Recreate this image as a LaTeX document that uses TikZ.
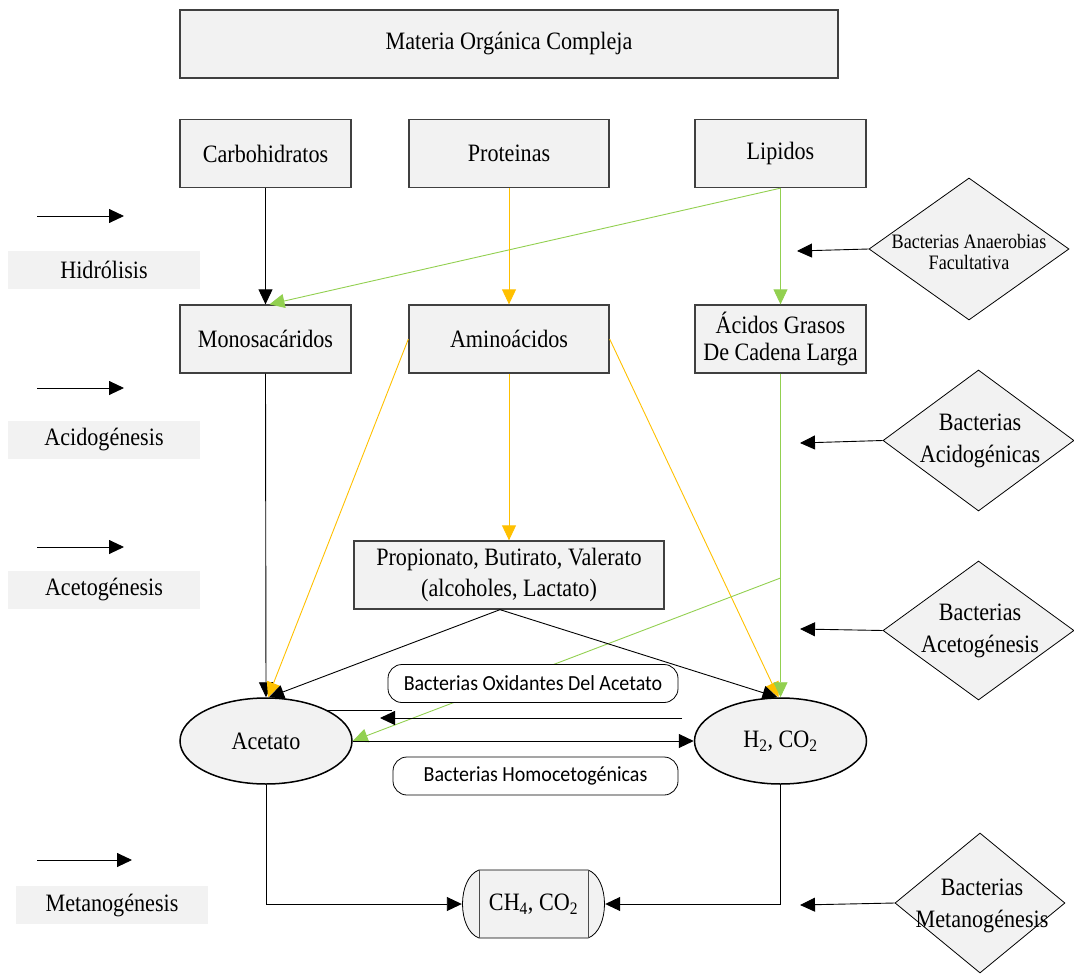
\documentclass[tikz,border=0pt]{standalone}
\usepackage{fontspec}
\setmainfont{Liberation Serif}[FakeStretch=0.885]
\newfontfamily\calfont{Carlito}[FakeStretch=0.93]
\usetikzlibrary{arrows.meta,shapes.geometric}
\definecolor{boxgray}{RGB}{242,242,242}
\definecolor{lgreen}{RGB}{146,208,80}
\definecolor{lyellow}{RGB}{255,192,0}
\newcommand\mainsz{\fontsize{25}{26}\selectfont}
\newcommand\smallsz{\fontsize{20.5}{21}\selectfont}
\newcommand\sanssz{\calfont\fontsize{21.5}{22}\selectfont}
\tikzset{
  box/.style={draw=black!75, line width=1.3pt, fill=boxgray, minimum height=68pt, inner sep=0pt, align=center, font=\mainsz},
  ell/.style={ellipse, draw=black, line width=1.5pt, fill=boxgray, minimum width=172pt, minimum height=86pt, inner sep=0pt, font=\mainsz},
  rbox/.style={draw=black, line width=0.8pt, rounded corners=14pt, fill=white, minimum height=38pt, inner sep=0pt, font=\sanssz},
  lab/.style={fill=boxgray, minimum width=192pt, minimum height=38pt, inner sep=0pt, font=\mainsz},
  dia/.style={diamond, draw=black, line width=0.8pt, fill=boxgray, inner sep=0pt},
  diatext/.style={align=center, font=\mainsz},
  arr/.style={line width=0.9pt, -{Triangle[length=15pt,width=14pt]}},
  con/.style={line width=0.9pt},
}
\begin{document}
\begin{tikzpicture}[x=1pt,y=-1pt]
\useasboundingbox (0,0) rectangle (1074,974);

% main boxes
\node[box, minimum width=658pt] (mat) at (509,44) {Materia Orgánica Compleja};
\node[box, minimum width=171pt] (carb) at (265.5,153.5) {Carbohidratos};
\node[box, minimum width=200pt] (prot) at (509,153.5) {Proteinas};
\node[box, minimum width=171pt] (lip) at (780.5,153.5) {Lipidos};
\node[box, minimum width=171pt] (mono) at (265.5,339) {Monosacáridos};
\node[box, minimum width=200pt] (amino) at (509,339) {Aminoácidos};
\node[box, minimum width=171pt, font=\fontsize{25}{27}\selectfont] (acid) at (780.5,339) {Ácidos Grasos\\De Cadena Larga};
\node[box, minimum width=310pt, font=\fontsize{25}{31}\selectfont] (prop) at (509,575) {Propionato, Butirato, Valerato\\(alcoholes, Lactato)};
\node[ell] (acet) at (266,741) {Acetato};
\node[ell] (h2) at (780.5,741) {H\textsubscript{2}, CO\textsubscript{2}};

% CH4 storage shape
\path[fill=boxgray, draw=black, line width=0.8pt] (479,870) -- (588,870) .. controls (610,878) and (610,930) .. (588,938) -- (479,938) .. controls (457,930) and (457,878) .. (479,870) -- cycle;
\draw[black!70, line width=0.8pt] (479,870) -- (479,938) (588,870) -- (588,938);
\node[minimum width=143pt, minimum height=68pt, inner sep=0pt, font=\mainsz] (ch4) at (533.5,904) {CH\textsubscript{4}, CO\textsubscript{2}};

% left stage labels and arrows
\node[lab] (l1) at (104,270) {Hidrólisis};
\node[lab] (l2) at (104,440) {Acidogénesis};
\node[lab] (l3) at (104,590) {Acetogénesis};
\node[lab] (l4) at (112,905) {Metanogénesis};
\coordinate (a1s) at (37,216); \coordinate (a1e) at (124,216);
\coordinate (a2s) at (37,388); \coordinate (a2e) at (124,388);
\coordinate (a3s) at (37,547); \coordinate (a3e) at (124,547);
\coordinate (a4s) at (37,860); \coordinate (a4e) at (132,860);
\draw[arr] (a1s) -- (a1e);
\draw[arr] (a2s) -- (a2e);
\draw[arr] (a3s) -- (a3e);
\draw[arr] (a4s) -- (a4e);

% diamonds
\node[dia, minimum width=200pt, minimum height=142pt] (d1) at (969,249) {};
\node[diatext, font=\smallsz] (d1t) at (969,252) {Bacterias Anaerobias\\Facultativa};
\node[dia, minimum width=191pt, minimum height=141pt] (d2) at (978.5,440.5) {};
\node[diatext, font=\fontsize{25}{32}\selectfont] (d2t) at (980,441) {Bacterias\\Acidogénicas};
\node[dia, minimum width=191pt, minimum height=139pt] (d3) at (978.5,630.5) {};
\node[diatext, font=\fontsize{25}{32}\selectfont] (d3t) at (980,631) {Bacterias\\Acetogénesis};
\node[dia, minimum width=170pt, minimum height=140pt] (d4) at (980,903) {};
\node[diatext, font=\fontsize{25}{32}\selectfont] (d4t) at (982,906) {Bacterias\\Metanogénesis};
\coordinate (d1e) at (797,251);
\coordinate (d2e) at (800,443);
\coordinate (d3e) at (800,629);
\coordinate (d4e) at (800,905);
\draw[arr] (d1.west) -- (d1e);
\draw[arr] (d2.west) -- (d2e);
\draw[arr] (d3.west) -- (d3e);
\draw[arr] (d4.west) -- (d4e);

% connectors
\draw[arr] (carb.south) -- (mono.north);
\draw[arr, lgreen] (lip.south) -- (acid.north);
\draw[arr, lgreen] (lip.south) -- ([xshift=4pt]mono.north);
\draw[arr, lyellow] (prot.south) -- (amino.north);
\draw[arr] (mono.south) -- (acet.north);
\draw[arr, lyellow] (amino.west) -- ([xshift=2pt]acet.north);
\draw[arr, lyellow] (amino.east) -- ([xshift=-2pt]h2.north);
\draw[arr, lyellow] (amino.south) -- (prop.north);
\draw[arr, lgreen] (acid.south) -- (h2.north);
\coordinate (g1) at (780.5,578);
\draw[arr, lgreen] (g1) -- (acet.east);
\draw[arr] ([xshift=-9pt]prop.south) -- ([xshift=3pt]acet.north);
\draw[arr] ([xshift=-9pt]prop.south) -- ([xshift=-3pt]h2.north);
\draw[arr] (acet.east) -- (h2.west);
\coordinate (ox1) at (392,709);
\draw[con] (acet.north east) -- (acet.north east -| ox1);
\coordinate (ox2) at (682,718);
\coordinate (ox3) at (380,718);
\draw[arr] (ox2) -- (ox3);
\draw[arr] (acet.south) |- (ch4.west);
\draw[arr] (h2.south) |- (ch4.east);

% rounded labels (on top)
\node[rbox, minimum width=290pt] (ox) at (533,683.5) {Bacterias Oxidantes Del Acetato};
\node[rbox, minimum width=285pt] (homo) at (535.5,776) {Bacterias Homocetogénicas};
\end{tikzpicture}
\end{document}
